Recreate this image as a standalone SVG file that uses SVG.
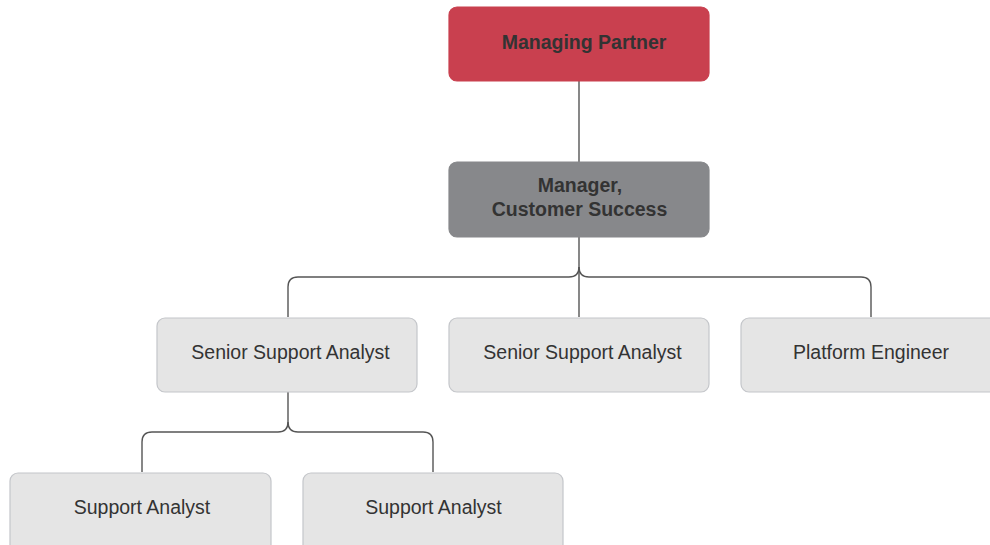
<svg xmlns="http://www.w3.org/2000/svg" width="990" height="545" viewBox="0 0 990 545">
  <style>
    .box { stroke-width: 1.2; }
    .top { fill: #C9404F; stroke: #C9404F; }
    .mgr { fill: #87888B; stroke: #87888B; }
    .role { fill: #E5E5E5; stroke: #C4C6CA; }
    .lbl { font-family: "Liberation Sans", Arial, sans-serif; font-size: 19.5px; fill: #333333; text-anchor: middle; }
    .b { font-weight: bold; }
    .wire { fill: none; stroke: #555555; stroke-width: 1.4; }
  </style>
  <rect width="990" height="545" fill="#FFFFFF"/>

  <g id="connectors">
    <path class="wire" d="M579 81 V162"/>
    <path class="wire" d="M579 237 V317"/>
    <path class="wire" d="M288 317 V287 Q288 277 298 277 H569 Q579 277 579 267"/>
    <path class="wire" d="M871 317 V287 Q871 277 861 277 H589 Q579 277 579 267"/>
    <path class="wire" d="M288 392 V422"/>
    <path class="wire" d="M142 472 V442 Q142 432 152 432 H278 Q288 432 288 422"/>
    <path class="wire" d="M433 472 V442 Q433 432 423 432 H298 Q288 432 288 422"/>
  </g>

  <g id="managing-partner">
    <rect class="box top" x="449" y="7" width="260" height="74" rx="8"/>
    <text class="lbl b" x="584" y="49">Managing Partner</text>
  </g>

  <g id="manager-cs">
    <rect class="box mgr" x="449" y="162" width="260" height="75" rx="8"/>
    <text class="lbl b" x="580" y="192">Manager,</text>
    <text class="lbl b" x="579.5" y="216">Customer Success</text>
  </g>

  <g id="senior-analyst-1">
    <rect class="box role" x="157" y="318" width="260" height="74" rx="8"/>
    <text class="lbl" x="290.5" y="359">Senior Support Analyst</text>
  </g>

  <g id="senior-analyst-2">
    <rect class="box role" x="449" y="318" width="260" height="74" rx="8"/>
    <text class="lbl" x="582.5" y="359">Senior Support Analyst</text>
  </g>

  <g id="platform-engineer">
    <rect class="box role" x="741" y="318" width="260" height="74" rx="8"/>
    <text class="lbl" x="871" y="359">Platform Engineer</text>
  </g>

  <g id="support-analyst-1">
    <rect class="box role" x="10" y="473" width="261" height="80" rx="8"/>
    <text class="lbl" x="142" y="514">Support Analyst</text>
  </g>

  <g id="support-analyst-2">
    <rect class="box role" x="303" y="473" width="260" height="80" rx="8"/>
    <text class="lbl" x="433.5" y="514">Support Analyst</text>
  </g>
</svg>
